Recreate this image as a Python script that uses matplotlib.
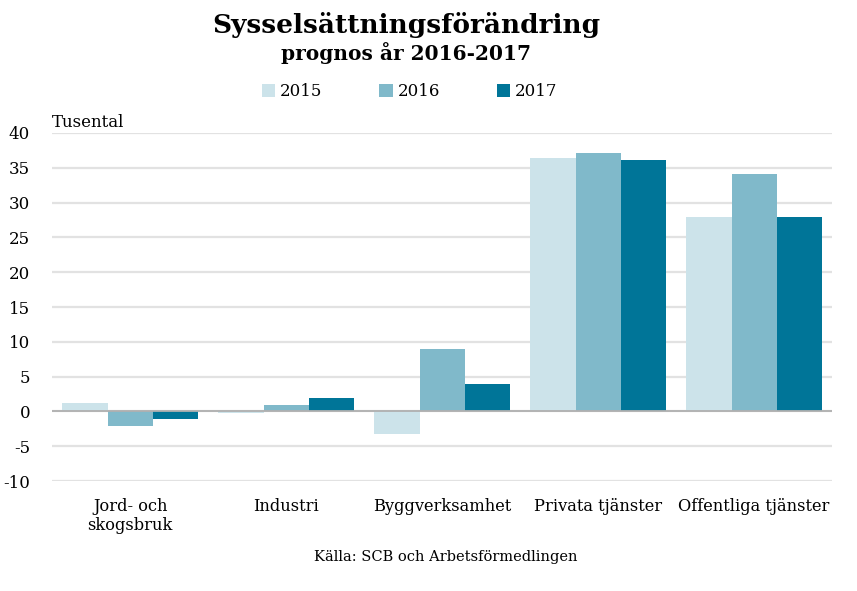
import matplotlib.pyplot as plt
import numpy as np

# data (tusental)
kategorier = ["Jord- och\nskogsbruk", "Industri", "Byggverksamhet", "Privata tjänster", "Offentliga tjänster"]
v2015 = [1.2, -0.2, -3.3, 36.4, 28.0]
v2016 = [-2.1, 0.9, 8.9, 37.1, 34.1]
v2017 = [-1.1, 1.9, 3.9, 36.1, 28.0]
ar = ["2015", "2016", "2017"]
yticks = [-10, -5, 0, 5, 10, 15, 20, 25, 30, 35, 40]

farger = ["#cce3ea", "#80b9ca", "#007598"]
plt.rcParams["font.family"] = ["DejaVu Serif"]

fig = plt.figure(figsize=(8.57, 5.91), dpi=100)
ax = fig.add_axes([0.061, 0.186, 0.910, 0.589])

x = np.arange(len(kategorier))
w = 0.29
for i, (vals, lab) in enumerate(zip([v2015, v2016, v2017], ar)):
    ax.bar(x + (i - 1) * w, vals, width=w, color=farger[i], label=lab, zorder=2)

ax.set_xlim(-0.5, len(kategorier) - 0.5)
ax.set_ylim(-10, 40)
ax.set_yticks(yticks)
ax.set_yticklabels([str(t) for t in yticks], fontsize=12)
ax.set_xticks(x)
ax.set_xticklabels(kategorier, fontsize=11.7, va="top")
ax.tick_params(axis="both", length=0)
ax.tick_params(axis="y", pad=16)
ax.tick_params(axis="x", pad=12)
for s in ax.spines.values():
    s.set_visible(False)
ax.yaxis.grid(True, color="#e2e2e2", linewidth=1.6, zorder=0)
ax.axhline(0, color="#b0b0b0", linewidth=1.3, zorder=3)

ax.text(0.0, 1.005, "Tusental", transform=ax.transAxes, fontsize=12, ha="left", va="bottom")

fig.text(0.474, 0.957, "Sysselsättningsförändring", fontsize=19, fontweight="bold", ha="center", va="center")
fig.text(0.474, 0.91, "prognos år 2016-2017", fontsize=14.5, fontweight="bold", ha="center", va="center")

fig.legend(loc="center", bbox_to_anchor=(0.478, 0.845), ncol=3, frameon=False, fontsize=12,
           handlelength=0.8, handleheight=0.8, columnspacing=3.4, handletextpad=0.3)

fig.text(0.52, 0.057, "Källa: SCB och Arbetsförmedlingen", fontsize=10.5, ha="center", va="center")

fig.savefig("out.png", dpi=100)
